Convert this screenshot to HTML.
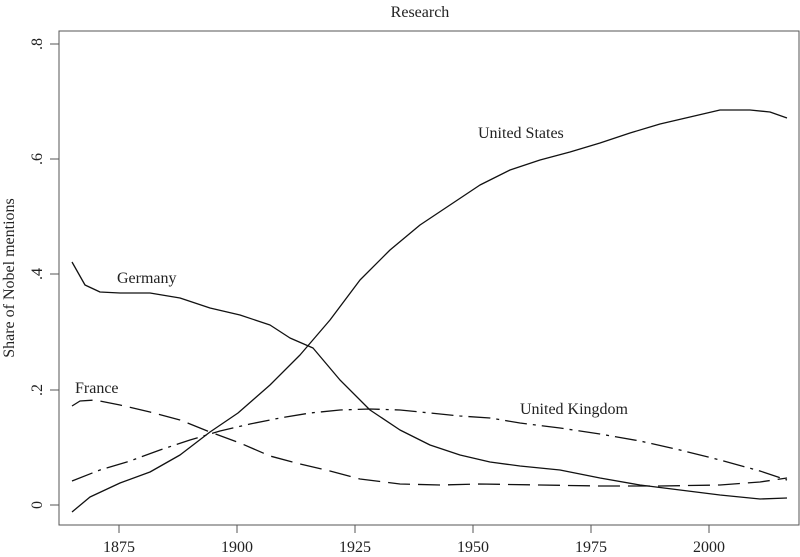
<!DOCTYPE html>
<html><head><style>body{margin:0;background:#fff}svg{display:block}text{font-family:"Liberation Serif",serif;fill:#222}</style></head>
<body>
<svg width="800" height="557" viewBox="0 0 800 557">
<rect x="59" y="31" width="740" height="494" fill="none" stroke="#555" stroke-width="1"/>
<text x="420" y="17" font-size="16" text-anchor="middle">Research</text>
<g stroke="#555">
<line x1="119" y1="525" x2="119" y2="533"/><line x1="237" y1="525" x2="237" y2="533"/><line x1="355" y1="525" x2="355" y2="533"/><line x1="473" y1="525" x2="473" y2="533"/><line x1="591" y1="525" x2="591" y2="533"/><line x1="709" y1="525" x2="709" y2="533"/>
<line x1="50" y1="505" x2="59" y2="505"/><line x1="50" y1="390" x2="59" y2="390"/><line x1="50" y1="274" x2="59" y2="274"/><line x1="50" y1="159" x2="59" y2="159"/><line x1="50" y1="44" x2="59" y2="44"/>
</g>
<g font-size="16" text-anchor="middle">
<text x="119" y="552">1875</text><text x="237" y="552">1900</text><text x="355" y="552">1925</text><text x="473" y="552">1950</text><text x="591" y="552">1975</text><text x="709" y="552">2000</text>
<text transform="translate(42,505) rotate(-90)">0</text>
<text transform="translate(42,390) rotate(-90)">.2</text>
<text transform="translate(42,274) rotate(-90)">.4</text>
<text transform="translate(42,159) rotate(-90)">.6</text>
<text transform="translate(42,44) rotate(-90)">.8</text>
<text transform="translate(14,278) rotate(-90)">Share of Nobel mentions</text>
</g>
<g font-size="16">
<text x="478" y="138">United States</text>
<text x="117" y="283">Germany</text>
<text x="75" y="393">France</text>
<text x="520" y="414">United Kingdom</text>
</g>
<g fill="none" stroke="#111" stroke-width="1.3" stroke-linejoin="round">
<polyline points="72,512 90,497 120,483 150,472 180,455 210,432 238,413 270,385 300,355 330,320 360,280 390,250 420,225 450,205 480,185 510,170 540,160 570,152 600,143 630,133 660,124 690,117 720,110 750,110 770,112 787,118"/>
<polyline points="72,262 85,285 100,292 120,293 150,293 180,298 210,308 240,315 270,325 290,338 313,348 340,380 370,410 400,430 430,445 460,455 490,462 520,466 560,470 600,478 640,485 680,490 720,495 760,499 787,498"/>
<polyline stroke-dasharray="22,8" points="72,406 80,401 95,400 120,405 150,412 180,420 210,432 240,443 270,456 300,464 330,471 360,479 400,484 440,485 480,484 540,485 600,486 660,486 720,485 760,482 787,478"/>
<polyline stroke-dasharray="22,6,3,6" points="72,481 100,470 130,461 160,450 190,440 220,431 250,424 280,418 310,413 340,410 370,409 400,410 430,413 460,416 490,418 520,423 560,428 600,434 640,441 680,450 720,460 760,471 787,480"/>
</g>
</svg>
</body></html>
